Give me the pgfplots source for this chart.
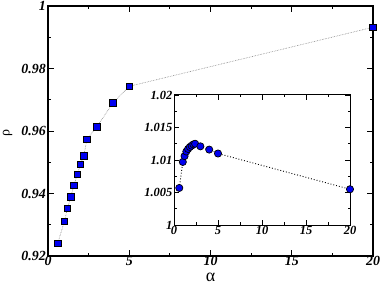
\documentclass[border=0pt]{standalone}
\usepackage{fontspec}
\setmainfont{Liberation Serif}
\newfontfamily\tickfont[UprightFont={* Bold Italic}]{Liberation Serif}
\usepackage{pgfplots}
\pgfplotsset{compat=1.18}
\definecolor{mblue}{RGB}{0,0,240}
\begin{document}
\begin{tikzpicture}[x=1bp,y=1bp]
\path[use as bounding box] (0,0) rectangle (382,285);
\begin{axis}[
  at={(48bp,29bp)}, anchor=south west,
  scale only axis, width=325bp, height=250bp,
  xmin=0, xmax=20, ymin=0.92, ymax=1,
  xtick={0,5,10,15,20}, minor xtick={2.5,7.5,12.5,17.5},
  xticklabels={0,5,10,15,20},
  ytick={0.92,0.94,0.96,0.98,1}, minor ytick={0.93,0.95,0.97,0.99},
  yticklabels={0.92,0.94,0.96,0.98,1},
  tick align=inside, major tick length=6bp, minor tick length=3bp,
  axis line style={line width=1.3pt}, tick style={line width=0.9pt,black},
  xticklabel style={inner sep=0.5bp, font=\tickfont\fontsize{14}{14}\selectfont},
  yticklabel style={inner sep=2bp, font=\tickfont\fontsize{14}{14}\selectfont},
  clip=false,
]
\addplot[gray, densely dotted, line width=0.6pt, mark=square*, mark size=3.2bp,
  mark options={fill=mblue, draw=black, line width=0.7pt, solid}] coordinates {
(0.6,0.9240) (1.0,0.9310) (1.2,0.9352) (1.4,0.9389) (1.6,0.9426) (1.8,0.9461)
(2.0,0.9493) (2.2,0.9520) (2.4,0.9574) (3.0,0.9613) (4.0,0.9690) (5.0,0.9743)
(20.0,0.9932)};
\node[font=\fontsize{18}{18}\selectfont, anchor=center, inner sep=0pt] at (axis description cs:0.5,-0.084) {α};
\node[font=\fontsize{14}{14}\selectfont, anchor=center, rotate=90, inner sep=0pt] at (axis description cs:-0.124,0.49) {ρ};
\end{axis}
\begin{axis}[
  at={(174bp,60bp)}, anchor=south west,
  scale only axis, width=176bp, height=130bp,
  xmin=0, xmax=20, ymin=1, ymax=1.02,
  xtick={0,5,10,15,20}, minor xtick={2.5,7.5,12.5,17.5},
  xticklabels={0,5,10,15,20},
  ytick={1,1.005,1.01,1.015,1.02}, minor ytick={1.0025,1.0075,1.0125,1.0175},
  yticklabels={1,1.005,1.01,1.015,1.02},
  tick align=inside, major tick length=5bp, minor tick length=2.5bp,
  axis line style={line width=1pt}, tick style={line width=0.8pt,black},
  xticklabel style={inner sep=1bp, font=\tickfont\fontsize{12.5}{12.5}\selectfont},
  yticklabel style={inner sep=1.5bp, font=\tickfont\fontsize{12.5}{12.5}\selectfont},
  axis background/.style={fill=white},
  clip=false,
]
\addplot[black, dotted, line width=0.9pt, mark=*, mark size=3.6bp,
  mark options={fill=mblue, draw=black, line width=0.7pt, solid}] coordinates {
(0.6,1.0057) (1.0,1.0097) (1.2,1.0106) (1.4,1.0113) (1.6,1.0117) (1.8,1.0120)
(2.0,1.0122) (2.2,1.0124) (2.4,1.0125) (3.0,1.0121) (4.0,1.0116) (5.0,1.0110)
(20.0,1.0055)};
\end{axis}
\end{tikzpicture}
\end{document}
